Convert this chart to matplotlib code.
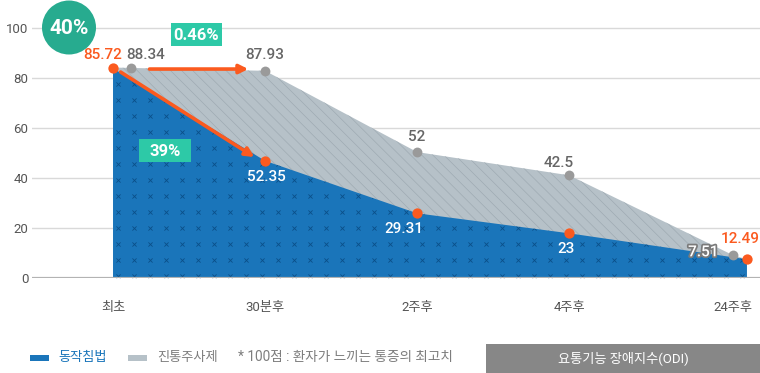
import numpy as np
import matplotlib
matplotlib.use('Agg')
import matplotlib.pyplot as plt
from matplotlib.patches import Polygon, Circle, Rectangle
from matplotlib import patheffects as pe

# ---------------- data ----------------
categories = ['최초', '30분후', '2주후', '4주후', '24주후']
acup_values = [84.0, 47.0, 26.0, 18.0, 7.6]      # 동작침법 (plotted heights)
inj_values = [84.3, 83.0, 50.5, 41.2, 9.2]       # 진통주사제 (plotted heights)
acup_labels = ['85.72', '52.35', '29.31', '23', '12.49']
inj_labels = ['88.34', '87.93', '52', '42.5', '7.51']
yticks = [0, 20, 40, 60, 80, 100]
badge_labels = ['40%', '0.46%', '39%']
legend_labels = ['동작침법', '진통주사제']
note_text = '* 100점 : 환자가 느끼는 통증의 최고치'
box_text = '요통기능 장애지수(ODI)'

# ---------------- style ----------------
BLUE = '#1a75ba'
BLUE_MARK = '#0b4f88'
GRAY_FILL = '#b6c1c8'
GRAY_HATCH = '#9fabb3'
ORANGE = '#fb5a1f'
GRAY_DOT = '#9a9a9a'
TEAL_DARK = '#27ab8f'
TEAL = '#2dc9a7'
TXT = '#555555'

plt.rcParams['font.family'] = ['Roboto', 'Noto Sans CJK KR', 'DejaVu Sans']
plt.rcParams['hatch.linewidth'] = 0.5

W, H = 760, 373
fig = plt.figure(figsize=(W / 100, H / 100), dpi=100)


def ax_rect(l, t, r, b):
    return [l / W, 1 - b / H, (r - l) / W, (b - t) / H]


def fp(x, y):
    """figure-pixel (top-left origin) -> figure fraction"""
    return (x / W, 1 - y / H)


ax = fig.add_axes(ax_rect(32, 3.3, 760, 278.3))
ax.set_ylim(0, 110)
ax.set_xlim(-0.533, 4.256)

n = len(categories)
xpos = np.arange(n, dtype=float)
xpos[-1] += 0.08             # last column sits a bit further right
xb = xpos.copy()
xb[-1] += 0.09               # blue series end extends to the edge

acup = np.array(acup_values)
inj = np.array(inj_values)

# gray area (진통주사제)
gray_poly = list(zip(xpos, inj)) + [(xb[-1], acup[-1]), (xb[-1], 0), (xpos[0], 0)]
gp = Polygon(gray_poly, closed=True, facecolor=GRAY_FILL, edgecolor=GRAY_HATCH,
             hatch='\\\\\\', linewidth=0, zorder=2)
ax.add_patch(gp)

# blue area (동작침법)
blue_poly = list(zip(xb, acup)) + [(xb[-1], 0), (xb[0], 0)]
bp = Polygon(blue_poly, closed=True, facecolor=BLUE, edgecolor='none', linewidth=0, zorder=3)
ax.add_patch(bp)

# small x pattern inside blue area
gx = np.arange(0.03, xb[-1], 16 / 152)
gy = np.arange(1.0, 100, 16 / 2.5)
GX, GY = np.meshgrid(gx, gy)
marks = ax.scatter(GX.ravel(), GY.ravel(), marker='x', s=9, linewidths=0.6,
                   color=BLUE_MARK, zorder=4)
marks.set_clip_path(bp)

# grid / axes
ax.set_yticks(yticks)
ax.yaxis.grid(True, color='#d9d9d9', linewidth=1)
ax.set_axisbelow(True)
ax.axhline(0, color='#b3b3b3', linewidth=2.3, zorder=5)
for s in ax.spines.values():
    s.set_visible(False)
ax.tick_params(axis='y', length=0, pad=2.5, labelsize=9.5, labelcolor=TXT)
ax.set_xticks(xpos)
ax.set_xticklabels(categories)
ax.tick_params(axis='x', length=0, pad=16.5, labelsize=9.5, labelcolor=TXT)

# markers
dodge_gray = np.zeros(n)
dodge_gray[0] = 0.12
ax.scatter(xpos + dodge_gray, inj, s=50, color=GRAY_DOT, zorder=8, linewidths=0)
ax.scatter(xb, acup, s=55, color=ORANGE, zorder=9, linewidths=0)

# arrows
ax.annotate('', xy=(xpos[1] - 0.11, inj[1] + 0.7), xytext=(xpos[0] + 0.24, inj[1] + 0.7),
            arrowprops=dict(arrowstyle='-|>', color=ORANGE, lw=2.6, mutation_scale=13,
                            shrinkA=0, shrinkB=0), zorder=7)
ax.annotate('', xy=(xpos[1] - 0.07, acup[1] + 1.5), xytext=(xpos[0] + 0.05, acup[0] - 1.5),
            arrowprops=dict(arrowstyle='-|>', color=ORANGE, lw=2.6, mutation_scale=13,
                            shrinkA=0, shrinkB=0), zorder=7)

# data labels
inj_offsets = [(33, 13), (0, 16), (0, 15), (-10, 12), (-30, 3)]
acup_offsets = [(-10, 13), (1, -16), (-13, -16), (-3, -16), (-7, 20)]
for i in range(n):
    dx, dy = inj_offsets[i]
    kw = dict(color='#666666')
    if i == n - 1:
        kw = dict(color='white',
                  path_effects=[pe.withStroke(linewidth=2.5, foreground='#7a7a7a')])
    ax.annotate(inj_labels[i], (xpos[i], inj[i]), xytext=(dx, dy), textcoords='offset pixels',
                ha='center', va='center', fontsize=11, fontweight='medium', zorder=10, **kw)
for i in range(n):
    dx, dy = acup_offsets[i]
    col = ORANGE if i in (0, n - 1) else 'white'
    ax.annotate(acup_labels[i], (xb[i], acup[i]), xytext=(dx, dy), textcoords='offset pixels',
                ha='center', va='center', fontsize=11, fontweight='medium', color=col, zorder=10)

# badges
circ = Circle((69 / 100, (H - 27.5) / 100), 0.27, transform=fig.dpi_scale_trans,
              facecolor=TEAL_DARK, edgecolor='none', zorder=20)
fig.patches.append(circ)
fig.text(*fp(69, 28), badge_labels[0], ha='center', va='center', color='white',
         fontsize=15, fontweight='bold', zorder=30)


def fig_box(l, t, r, b, color):
    x0, y0 = fp(l, b)
    rect = Rectangle((x0, y0), (r - l) / W, (b - t) / H, transform=fig.transFigure,
                     facecolor=color, edgecolor='none', zorder=20)
    fig.patches.append(rect)


fig_box(171, 23, 222, 46, TEAL)
fig.text(*fp(196.5, 35), badge_labels[1], ha='center', va='center', color='white',
         fontsize=12, fontweight='bold', zorder=30)
fig_box(139, 139, 191, 162, TEAL)
fig.text(*fp(165, 151), badge_labels[2], ha='center', va='center', color='white',
         fontsize=12, fontweight='bold', zorder=30)

# legend
fig_box(30, 355, 49, 361, BLUE)
fig.text(*fp(58, 357.5), legend_labels[0], ha='left', va='center', color=BLUE,
         fontsize=9.5, zorder=30)
fig_box(128, 355, 147, 361, GRAY_FILL)
fig.text(*fp(157, 357.5), legend_labels[1], ha='left', va='center', color='#7d7d7d',
         fontsize=9.5, zorder=30)
fig.text(*fp(238, 357.5), note_text, ha='left', va='center', color='#7d7d7d',
         fontsize=9.8, zorder=30)
fig_box(486, 344, 760, 373, '#878787')
fig.text(*fp(623, 358), box_text, ha='center', va='center', color='white',
         fontsize=9.5, zorder=30)

fig.savefig('out.png', dpi=100)
